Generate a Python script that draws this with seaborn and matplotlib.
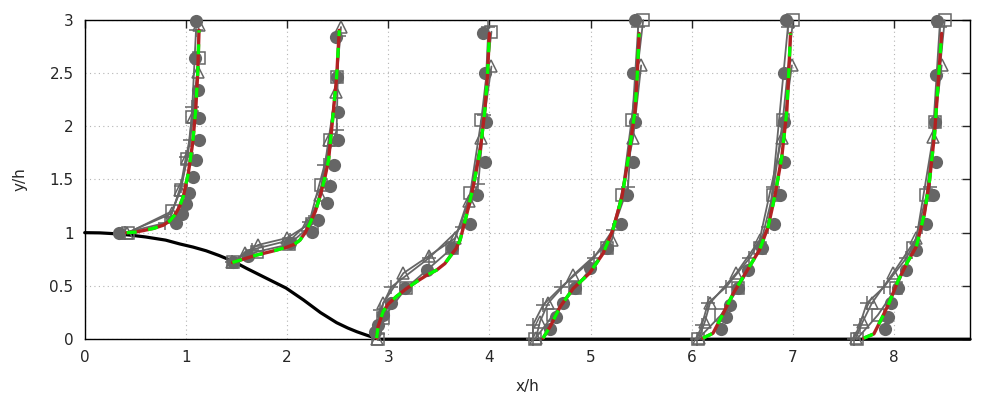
import numpy as np
import pandas as pd
import matplotlib
matplotlib.use("Agg")
import matplotlib.pyplot as plt
from matplotlib.ticker import FuncFormatter, MultipleLocator
import seaborn as sns

# ---- hill geometry ----
hill_x = [0.0, 0.15, 0.3, 0.45, 0.6, 0.8, 0.94, 1.07, 1.20, 1.33, 1.47, 1.60, 1.80, 1.99,
          2.16, 2.33, 2.49, 2.60, 2.69, 2.78, 2.85, 2.92, 8.75]
hill_y = [1.0, 0.998, 0.99, 0.977, 0.96, 0.93, 0.894, 0.865, 0.83, 0.785, 0.73, 0.665, 0.57, 0.48,
          0.37, 0.25, 0.155, 0.105, 0.07, 0.04, 0.018, 0.0, 0.0]

# ---- reference data (filled circles), one list per profile ----
dns_x = [
    [0.342, 0.902, 0.959, 1.0, 1.034, 1.067, 1.10, 1.127, 1.127, 1.117, 1.09, 1.10],
    [1.47, 1.61, 2.03, 2.243, 2.31, 2.39, 2.424, 2.466, 2.50, 2.50, 2.49, 2.483],
    [2.87, 2.90, 2.95, 3.03, 3.165, 3.38, 3.63, 3.81, 3.88, 3.955, 3.965, 3.955, 3.94],
    [4.60, 4.66, 4.73, 4.845, 4.99, 5.16, 5.30, 5.36, 5.42, 5.44, 5.42, 5.44],
    [6.29, 6.34, 6.38, 6.46, 6.56, 6.69, 6.81, 6.87, 6.91, 6.91, 6.91, 6.93],
    [7.91, 7.94, 7.974, 8.04, 8.115, 8.215, 8.32, 8.38, 8.41, 8.40, 8.41, 8.42],
]
dns_y = [
    [1.0, 1.09, 1.175, 1.27, 1.375, 1.525, 1.68, 1.87, 2.08, 2.34, 2.64, 2.99],
    [0.72, 0.78, 0.90, 1.01, 1.12, 1.275, 1.44, 1.635, 1.87, 2.135, 2.46, 2.84],
    [0.07, 0.134, 0.228, 0.338, 0.478, 0.65, 0.854, 1.08, 1.354, 1.666, 2.04, 2.495, 2.876],
    [0.094, 0.212, 0.338, 0.478, 0.666, 0.854, 1.08, 1.354, 1.666, 2.04, 2.495, 2.995],
    [0.094, 0.212, 0.32, 0.478, 0.65, 0.854, 1.08, 1.354, 1.666, 2.04, 2.495, 2.995],
    [0.094, 0.212, 0.338, 0.478, 0.65, 0.838, 1.082, 1.354, 1.666, 2.04, 2.48, 2.99],
]

# ---- open-marker series (triangles, pluses, squares) ----
tri_x = [
    [0.42, 0.86, 0.942, 1.014, 1.073, 1.12, 1.125],
    [1.46, 1.58, 1.715, 2.0, 2.20, 2.33, 2.41, 2.48, 2.533],
    [2.89, 2.95, 3.15, 3.40, 3.66, 3.80, 3.92, 4.02],
    [4.46, 4.50, 4.58, 4.83, 5.21, 5.42, 5.50],
    [6.07, 6.13, 6.18, 6.44, 6.67, 6.89, 6.99],
    [7.62, 7.69, 7.78, 7.99, 8.22, 8.385, 8.47],
]
tri_y = [
    [1.0, 1.18, 1.40, 1.70, 2.09, 2.51, 2.95],
    [0.72, 0.81, 0.885, 0.95, 1.07, 1.35, 1.87, 2.32, 2.93],
    [0.0, 0.34, 0.62, 0.78, 0.947, 1.30, 1.886, 2.56],
    [0.01, 0.165, 0.338, 0.603, 0.93, 1.886, 2.57],
    [0.01, 0.165, 0.338, 0.62, 0.93, 1.886, 2.57],
    [0.01, 0.165, 0.338, 0.62, 0.947, 1.90, 2.57],
]
plus_x = [
    [0.40, 0.79, 0.85, 0.95, 1.0, 1.04, 1.063, 1.10],
    [1.46, 1.65, 2.03, 2.22, 2.37, 2.49, 2.51],
    [2.90, 2.92, 3.03, 3.40, 3.725, 3.89, 3.95, 3.99],
    [4.43, 4.43, 4.53, 4.71, 5.03, 5.22, 5.37, 5.47],
    [6.05, 6.10, 6.16, 6.34, 6.57, 6.755, 6.80, 6.95],
    [7.60, 7.66, 7.73, 7.90, 8.12, 8.28, 8.35, 8.45],
]
plus_y = [
    [1.0, 1.09, 1.15, 1.44, 1.71, 1.87, 2.18, 2.90],
    [0.72, 0.84, 0.93, 1.10, 1.635, 1.96, 2.85],
    [0.05, 0.275, 0.49, 0.76, 1.056, 1.46, 2.10, 2.93],
    [0.0, 0.134, 0.32, 0.49, 0.76, 1.025, 1.43, 2.93],
    [0.0, 0.134, 0.338, 0.49, 0.76, 1.05, 1.43, 2.93],
    [0.0, 0.134, 0.338, 0.49, 0.76, 1.05, 1.43, 2.93],
]
sq_x = [
    [0.43, 0.86, 0.95, 1.01, 1.06, 1.13],
    [1.47, 1.70, 2.02, 2.25, 2.34, 2.42, 2.49],
    [2.90, 2.95, 3.175, 3.63, 3.81, 3.92, 4.02],
    [4.45, 4.63, 4.845, 5.16, 5.31, 5.405, 5.52],
    [6.06, 6.29, 6.46, 6.67, 6.80, 6.90, 7.0],
    [7.63, 7.84, 8.02, 8.19, 8.32, 8.40, 8.50],
]
sq_y = [
    [1.0, 1.2, 1.4, 1.69, 2.09, 2.64],
    [0.72, 0.82, 0.89, 1.08, 1.45, 1.87, 2.46],
    [0.0, 0.197, 0.478, 0.854, 1.37, 2.06, 2.886],
    [0.0, 0.228, 0.478, 0.854, 1.354, 2.06, 2.995],
    [0.0, 0.228, 0.478, 0.854, 1.354, 2.06, 2.995],
    [0.0, 0.228, 0.478, 0.854, 1.354, 2.04, 2.995],
]

# ---- model results (red solid and green dashed lie on top of each other) ----
model_x = [
    [0.415, 0.50, 0.58, 0.68, 0.777, 0.84, 0.89, 0.935, 0.974, 1.024, 1.067, 1.097, 1.117, 1.13],
    [1.46, 1.58, 1.70, 1.85, 1.996, 2.07, 2.127, 2.18, 2.226, 2.28, 2.325, 2.37, 2.41, 2.45, 2.49, 2.516],
    [2.885, 2.90, 2.95, 3.0, 3.08, 3.18, 3.28, 3.38, 3.48, 3.56, 3.61, 3.67, 3.71, 3.77, 3.84,
     3.91, 3.955, 3.98, 4.0],
    [4.53, 4.60, 4.70, 4.83, 4.99, 5.125, 5.22, 5.31, 5.37, 5.44, 5.46, 5.48],
    [6.11, 6.21, 6.295, 6.41, 6.54, 6.67, 6.755, 6.82, 6.89, 6.94, 6.96, 6.976],
    [7.70, 7.80, 7.88, 7.95, 8.04, 8.13, 8.22, 8.30, 8.35, 8.40, 8.435, 8.47],
]
model_y = [
    [1.0, 1.005, 1.02, 1.04, 1.07, 1.11, 1.166, 1.24, 1.338, 1.557, 1.84, 2.15, 2.495, 2.9],
    [0.72, 0.755, 0.79, 0.825, 0.863, 0.89, 0.93, 1.0, 1.088, 1.2, 1.338, 1.50, 1.68, 2.06, 2.46, 2.90],
    [0.01, 0.12, 0.26, 0.33, 0.40, 0.475, 0.54, 0.60, 0.65, 0.71, 0.775, 0.85, 0.93, 1.15, 1.43,
     1.78, 2.15, 2.46, 2.87],
    [0.01, 0.118, 0.306, 0.478, 0.62, 0.807, 1.025, 1.338, 1.68, 2.15, 2.46, 2.87],
    [0.01, 0.056, 0.212, 0.43, 0.634, 0.838, 1.056, 1.338, 1.713, 2.15, 2.53, 2.87],
    [0.01, 0.05, 0.20, 0.34, 0.55, 0.72, 0.87, 1.18, 1.49, 1.93, 2.40, 2.87],
]

GRAY = "#666666"
RED = "#b22222"
GREEN = "#00ff00"


def to_frame(xs, ys):
    rows = []
    for i, (xx, yy) in enumerate(zip(xs, ys)):
        for a, b in zip(xx, yy):
            rows.append((i, a, b))
    return pd.DataFrame(rows, columns=["profile", "x", "y"])


sns.set_style("white")
plt.rcParams["font.family"] = ["DejaVu Sans"]
plt.rcParams["font.size"] = 11

fig, ax = plt.subplots(figsize=(10, 4), dpi=100)
fig.subplots_adjust(left=0.0847, right=0.970, bottom=0.152, top=0.951)

# hill
sns.lineplot(x=hill_x, y=hill_y, sort=False, estimator=None, color="black", lw=2.3, ax=ax, zorder=2)

# open-marker series
open_kw = dict(units="profile", estimator=None, sort=False, color=GRAY, lw=1.3,
               markerfacecolor="none", markeredgecolor=GRAY, markeredgewidth=1.1, ax=ax, zorder=3)
sns.lineplot(data=to_frame(tri_x, tri_y), x="x", y="y", marker="^", markersize=8, **open_kw)
sns.lineplot(data=to_frame(plus_x, plus_y), x="x", y="y", marker="+", markersize=10, **open_kw)
sns.lineplot(data=to_frame(sq_x, sq_y), x="x", y="y", marker="s", markersize=8, **open_kw)

# reference points
sns.scatterplot(data=to_frame(dns_x, dns_y), x="x", y="y", s=90, color=GRAY, linewidth=0,
                ax=ax, zorder=4, clip_on=False)

# models
model_df = to_frame(model_x, model_y)
sns.lineplot(data=model_df, x="x", y="y", units="profile", estimator=None, sort=False,
             color=RED, lw=2.4, ax=ax, zorder=5)
sns.lineplot(data=model_df, x="x", y="y", units="profile", estimator=None, sort=False,
             color=GREEN, lw=2.4, linestyle=(0, (3, 3.5)), ax=ax, zorder=6)

for ln in ax.lines:
    ln.set_clip_on(False)

ax.set_xlim(0, 8.75)
ax.set_ylim(0, 3)
ax.xaxis.set_major_locator(MultipleLocator(1))
ax.yaxis.set_major_locator(MultipleLocator(0.5))
fmt = FuncFormatter(lambda v, p: f"{v:g}")
ax.xaxis.set_major_formatter(fmt)
ax.yaxis.set_major_formatter(fmt)
ax.tick_params(direction="in", top=True, right=True, length=6, width=1, labelsize=11, pad=8)
ax.grid(True, linestyle=(0, (1, 3)), color="#b4b4b4", lw=0.8)
ax.set_axisbelow(True)
for sp in ax.spines.values():
    sp.set_color("black")
    sp.set_linewidth(1.0)

ax.set_xlabel("x/h", fontsize=11, labelpad=10)
ax.set_ylabel("y/h", fontsize=11, labelpad=16)

fig.savefig("out.png", dpi=100)
